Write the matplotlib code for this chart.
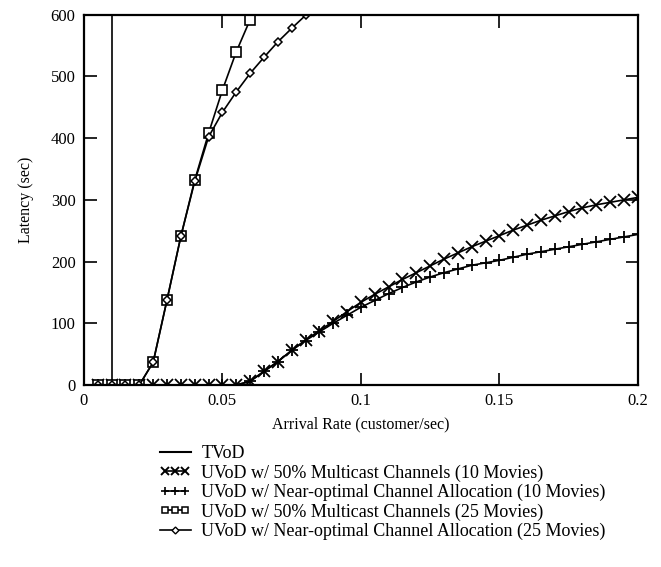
import numpy as np
import matplotlib.pyplot as plt
from matplotlib.legend_handler import HandlerLine2D
from matplotlib.lines import Line2D
from matplotlib.ticker import FormatStrFormatter

plt.rcParams['font.family'] = ['Liberation Serif', 'DejaVu Serif']

# TVoD saturates at about 0.01 customer/sec
rate_tvod = [0.005, 0.01, 0.01]
lat_tvod = [0, 0, 1000]

rate_10 = [0.005, 0.01, 0.015, 0.02, 0.025, 0.03, 0.035, 0.04, 0.045, 0.05,
           0.055, 0.06, 0.065, 0.07, 0.075, 0.08, 0.085, 0.09, 0.095, 0.1,
           0.105, 0.11, 0.115, 0.12, 0.125, 0.13, 0.135, 0.14, 0.145, 0.15,
           0.155, 0.16, 0.165, 0.17, 0.175, 0.18, 0.185, 0.19, 0.195, 0.2]
lat_mc10 = [0, 0, 0, 0, 0, 0, 0, 0, 0, 0,
            0, 6, 22, 38, 56, 73, 88, 103, 119, 134,
            147, 159, 171, 182, 193, 204, 214, 224, 233, 242,
            251, 259, 267, 274, 281, 287, 292, 296, 300, 304]
lat_no10 = [0, 0, 0, 0, 0, 0, 0, 0, 0, 0,
            0, 6, 22, 38, 56, 72, 86, 100, 113, 126,
            137, 148, 158, 167, 175, 182, 188, 194, 198, 202,
            207, 212, 216, 220, 224, 228, 232, 236, 240, 244]

rate_mc25 = [0.005, 0.01, 0.015, 0.02, 0.025, 0.03, 0.035, 0.04, 0.045, 0.05,
             0.055, 0.06]
lat_mc25 = [0, 0, 0, 0, 37, 138, 241, 332, 408, 478, 540, 592]

rate_no25 = [0.005, 0.01, 0.015, 0.02, 0.025, 0.03, 0.035, 0.04, 0.045, 0.05,
             0.055, 0.06, 0.065, 0.07, 0.075, 0.08]
lat_no25 = [0, 0, 0, 0, 37, 138, 241, 330, 402, 442, 475, 505, 531, 556,
            578, 599]

labels = ["TVoD",
          "UVoD w/ 50% Multicast Channels (10 Movies)",
          "UVoD w/ Near-optimal Channel Allocation (10 Movies)",
          "UVoD w/ 50% Multicast Channels (25 Movies)",
          "UVoD w/ Near-optimal Channel Allocation (25 Movies)"]


def main():
    fig = plt.figure(figsize=(6.61, 5.67), dpi=100)
    ax = fig.add_axes([0.127, 0.321, 0.838, 0.653])

    ax.plot(rate_tvod, lat_tvod, color='black', lw=1.2)
    ax.plot(rate_10, lat_mc10, color='black', lw=1.2, marker='x',
            ms=8, mew=1.3)
    ax.plot(rate_10, lat_no10, color='black', lw=1.2, marker='+',
            ms=8, mew=1.3)
    ax.plot(rate_mc25, lat_mc25, color='black', lw=1.2, marker='s',
            ms=6.5, mfc='white', mew=1.2)
    ax.plot(rate_no25, lat_no25, color='black', lw=1.2, marker='D',
            ms=4.5, mfc='white', mew=1.1)

    ax.set_xlim(0, 0.2)
    ax.set_ylim(0, 600)
    ax.set_xticks([0, 0.05, 0.1, 0.15, 0.2])
    ax.set_yticks([0, 100, 200, 300, 400, 500, 600])
    ax.xaxis.set_major_formatter(FormatStrFormatter('%g'))
    ax.tick_params(direction='in', top=True, right=True, length=9,
                   width=1.2, labelsize=12, pad=6)
    for s in ax.spines.values():
        s.set_linewidth(1.6)

    ax.set_xlabel("Arrival Rate (customer/sec)", fontsize=11.5, labelpad=5)
    ax.set_ylabel("Latency (sec)", fontsize=11.5, labelpad=12)

    # smaller markers for the legend keys
    h0 = Line2D([], [], color='black', lw=1.5)
    h1 = Line2D([], [], color='black', lw=1.2, marker='x', ms=5.5, mew=1.4)
    h2 = Line2D([], [], color='black', lw=1.2, marker='+', ms=6, mew=1.2)
    h3 = Line2D([], [], color='black', lw=1.2, marker='s', ms=4.5,
                mfc='white', mew=1.1)
    h4 = Line2D([], [], color='black', lw=1.2, marker='D', ms=3.5,
                mfc='white', mew=1.0)
    hm = {h1: HandlerLine2D(numpoints=3), h2: HandlerLine2D(numpoints=3),
          h3: HandlerLine2D(numpoints=3), h4: HandlerLine2D(numpoints=1)}
    fig.legend([h0, h1, h2, h3, h4], labels, handler_map=hm,
               loc='upper left', bbox_to_anchor=(0.242, 0.215),
               frameon=False, fontsize=13, handlelength=1.7,
               handletextpad=0.6, labelspacing=0.12, borderpad=0,
               borderaxespad=0)

    fig.savefig("out.png", dpi=100)


if __name__ == "__main__":
    main()
